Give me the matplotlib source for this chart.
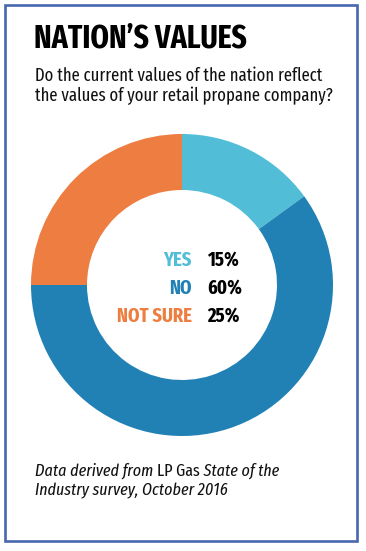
import matplotlib
matplotlib.use("Agg")
import matplotlib.pyplot as plt
from matplotlib.patches import Rectangle

# ---- data ----
categories = ["YES", "NO", "NOT SURE"]
values = [15, 60, 25]
colors = ["#52bdd6", "#2181b5", "#ed7d40"]
title = "NATION\u2019S VALUES"
subtitle = ["Do the current values of the nation reflect",
            "the values of your retail propane company?"]
footer_line1 = [("Data derived from ", "italic"), ("LP Gas", "normal"), (" State of the", "italic")]
footer_line2 = [("Industry survey, October 2016", "italic")]

W, H = 366, 551
FONT = "Fira Sans Extra Condensed"

fig = plt.figure(figsize=(W / 100, H / 100), dpi=100)
fig.patch.set_facecolor("white")

def fx(x):
    return x / W

def fy(y):
    return 1 - y / H

# border
fig.patches.append(Rectangle((fx(5), fy(541)), fx(357) - fx(5), fy(5) - fy(541),
                             transform=fig.transFigure, fill=False,
                             edgecolor="#4867b0", linewidth=1.9))

# title and subtitle
fig.text(fx(34), fy(47.5), title, family=FONT, fontweight="bold", fontsize=23.2,
         color="black", va="baseline", ha="left")
for i, line in enumerate(subtitle):
    fig.text(fx(35), fy(80.7 + 20 * i), line, family=FONT, fontsize=13,
             color="#111111", va="baseline", ha="left")

# donut
cx, cy, R = 182, 285, 151
ax = fig.add_axes([fx(cx - R), fy(cy + R), (2 * R) / W, (2 * R) / H])
ax.pie(values, colors=colors, startangle=90, counterclock=False, radius=1,
       wedgeprops=dict(width=56 / 151, edgecolor="none"))
ax.set_xlim(-1, 1)
ax.set_ylim(-1, 1)
ax.set_aspect("equal")
ax.axis("off")

# center legend
baselines = [266, 294, 322]
for cat, val, col, by in zip(categories, values, colors, baselines):
    fig.text(fx(192), fy(by), cat, family=FONT, fontweight="bold", fontsize=14.5,
             color=col, ha="right", va="baseline")
    fig.text(fx(207), fy(by), f"{val}%", family=FONT, fontweight="bold", fontsize=14.5,
             color="black", ha="left", va="baseline")

# footer with mixed styles
fig.canvas.draw()
renderer = fig.canvas.get_renderer()
for line, by in ((footer_line1, 475.7), (footer_line2, 495.7)):
    x = 35
    for seg, style in line:
        t = fig.text(fx(x), fy(by), seg, family=FONT, style=style, fontsize=12.5,
                     color="#111111", ha="left", va="baseline")
        bb = t.get_window_extent(renderer)
        x += bb.width

fig.savefig("out.png", dpi=100, facecolor="white")
